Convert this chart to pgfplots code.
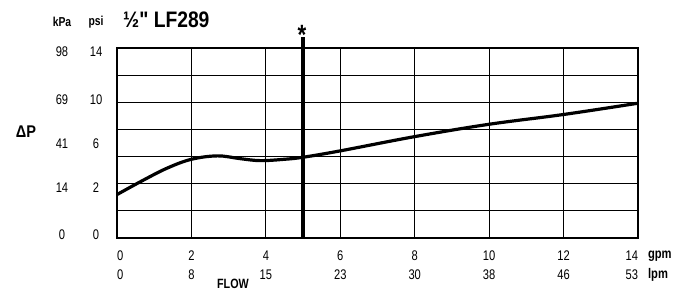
\documentclass[border=0pt]{standalone}
\usepackage{pgfplots}
\pgfplotsset{compat=1.18}
\usepackage{fontspec}
\setmainfont{Liberation Sans}[FakeStretch=0.8]
\newfontfamily\titlefont{Liberation Sans}[FakeStretch=0.86]
\begin{document}
\begin{tikzpicture}
\begin{axis}[
  scale only axis, width=521bp, height=190bp,
  xmin=0, xmax=14, ymin=0, ymax=14,
  xtick={0,2,...,14}, ytick={0,2,...,14},
  grid=major, grid style={black, line width=0.8bp},
  axis line style={black, line width=2bp},
  major tick length=0,
  yticklabels={},
  xticklabels={{\makebox[0pt][l]{0}\\\makebox[0pt][l]{0}},{2\\8},{4\\15},{6\\23},{8\\30},{10\\38},{12\\46},{\makebox[0pt][r]{14}\\\makebox[0pt][r]{53}}},
  xticklabel style={align=center, anchor=center, yshift=-27.5bp, font=\fontsize{14}{19}\selectfont},
  /pgf/number format/assume math mode=true,
  clip=false,
]
\addplot[black, line width=3.2bp, smooth, tension=0.6] coordinates {
  (0,3.2) (0.7,4.25) (1.35,5.15) (2,5.8) (2.7,6.05) (3.3,5.85) (3.85,5.7) (4.5,5.8) (5,5.95) (6,6.42) (8,7.47) (10,8.38) (12,9.1) (14,9.93)
};
\addplot[black, line width=4.5bp] coordinates {(5,0) (5,14.8)};
\node[font=\bfseries\fontsize{28}{30}\selectfont] at (rel axis cs:0.3552,1.07) {*};
% y labels
\node[font=\bfseries\fontsize{13}{14}\selectfont] at (rel axis cs:-0.1056,1.137) {kPa};
\node[font=\bfseries\fontsize{13}{14}\selectfont] at (rel axis cs:-0.0403,1.137) {psi};
\node[font=\fontsize{14}{15}\selectfont] at (rel axis cs:-0.1056,0.979) {98};
\node[font=\fontsize{14}{15}\selectfont] at (rel axis cs:-0.1056,0.726) {69};
\node[font=\fontsize{14}{15}\selectfont] at (rel axis cs:-0.1056,0.495) {41};
\node[font=\fontsize{14}{15}\selectfont] at (rel axis cs:-0.1056,0.263) {14};
\node[font=\fontsize{14}{15}\selectfont] at (rel axis cs:-0.1056,0.0158) {0};
\node[font=\fontsize{14}{15}\selectfont] at (rel axis cs:-0.0403,0.979) {14};
\node[font=\fontsize{14}{15}\selectfont] at (rel axis cs:-0.0403,0.726) {10};
\node[font=\fontsize{14}{15}\selectfont] at (rel axis cs:-0.0403,0.495) {6};
\node[font=\fontsize{14}{15}\selectfont] at (rel axis cs:-0.0403,0.263) {2};
\node[font=\fontsize{14}{15}\selectfont] at (rel axis cs:-0.0403,0.0158) {0};
\node[font=\bfseries\fontsize{17}{19}\selectfont] at (rel axis cs:-0.1747,0.558) {\titlefont ΔP};
\node[anchor=west, inner sep=0pt, font=\bfseries\fontsize{22.5}{24}\selectfont] at (rel axis cs:0.0115,1.147) {\titlefont ½" LF289};
\node[inner sep=0pt, font=\bfseries\fontsize{13.5}{15}\selectfont] at (rel axis cs:0.2226,-0.242) {FLOW};
\node[anchor=west, inner sep=0pt, font=\bfseries\fontsize{14}{15}\selectfont] at (rel axis cs:1.019,-0.0947) {gpm};
\node[anchor=west, inner sep=0pt, font=\bfseries\fontsize{14}{15}\selectfont] at (rel axis cs:1.019,-0.1947) {lpm};
\coordinate (bbA) at (rel axis cs:-0.2246,-0.2895);
\coordinate (bbB) at (rel axis cs:1.0883,1.2526);
\end{axis}
\pgfresetboundingbox
\path (bbA) rectangle (bbB);
\end{tikzpicture}
\end{document}
